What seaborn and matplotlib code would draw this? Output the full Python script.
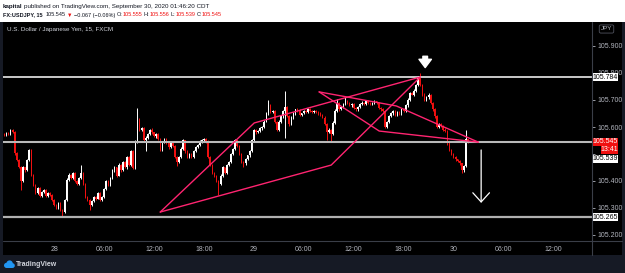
import matplotlib
matplotlib.use('Agg')
import numpy as np
import pandas as pd
import seaborn as sns
import matplotlib.pyplot as plt
import matplotlib.transforms as mtransforms
from matplotlib.patches import Rectangle, Circle
from matplotlib.lines import Line2D

# 15 min USDJPY closes, 27 Sep 18:00 -> 30 Sep 01:45 (CDT)
closes = [
    105.572, 105.578, 105.575, 105.588, 105.582, 105.503, 105.478, 105.452, 105.400, 105.450, 105.440, 105.478, 105.515, 105.422, 105.385, 105.356,
    105.374, 105.344, 105.359, 105.367, 105.344, 105.356, 105.348, 105.330, 105.311, 105.300, 105.319, 105.293, 105.285, 105.330, 105.404, 105.422,
    105.410, 105.430, 105.400, 105.390, 105.410, 105.430, 105.390, 105.340, 105.330, 105.310, 105.325, 105.340, 105.335, 105.355, 105.330, 105.340,
    105.370, 105.400, 105.385, 105.410, 105.440, 105.450, 105.420, 105.460, 105.440, 105.470, 105.450, 105.490, 105.460, 105.510, 105.448, 105.544,
    105.626, 105.589, 105.596, 105.552, 105.560, 105.575, 105.590, 105.580, 105.565, 105.575, 105.555, 105.515, 105.545, 105.555, 105.540, 105.525,
    105.545, 105.530, 105.490, 105.470, 105.490, 105.520, 105.550, 105.510, 105.490, 105.500, 105.490, 105.510, 105.525, 105.535, 105.545, 105.550,
    105.555, 105.545, 105.490, 105.460, 105.430, 105.420, 105.400, 105.390, 105.420, 105.450, 105.430, 105.460, 105.470, 105.500, 105.520, 105.550,
    105.530, 105.500, 105.470, 105.465, 105.480, 105.495, 105.510, 105.550, 105.590, 105.580, 105.585, 105.595, 105.600, 105.620, 105.650, 105.680,
    105.655, 105.660, 105.620, 105.590, 105.620, 105.640, 105.660, 105.675, 105.640, 105.610, 105.635, 105.650, 105.665, 105.660, 105.645, 105.650,
    105.660, 105.655, 105.665, 105.660, 105.655, 105.660, 105.655, 105.650, 105.645, 105.635, 105.610, 105.580, 105.590, 105.575, 105.615, 105.660,
    105.690, 105.665, 105.675, 105.685, 105.695, 105.690, 105.680, 105.685, 105.670, 105.665, 105.675, 105.685, 105.690, 105.685, 105.695, 105.690,
    105.685, 105.690, 105.695, 105.690, 105.670, 105.665, 105.660, 105.600, 105.620, 105.640, 105.650, 105.660, 105.645, 105.655, 105.650, 105.665,
    105.660, 105.680, 105.700, 105.725, 105.720, 105.735, 105.755, 105.780, 105.755, 105.720, 105.700, 105.710, 105.720, 105.690, 105.665, 105.640,
    105.600, 105.610, 105.605, 105.590, 105.585, 105.540, 105.515, 105.500, 105.490, 105.480, 105.475, 105.465, 105.440, 105.455, 105.555, 105.545,
]
first_open = 105.575

# wick lengths above / below the body, in 0.001 yen
upper_wick = [
    4, 3, 5, 3, 6, 4, 3, 5, 4, 6, 3, 5, 5, 4, 3, 4,
    5, 3, 4, 3, 4, 3, 5, 3, 4, 2, 5, 3, 3, 4, 6, 8,
    4, 5, 3, 4, 3, 30, 4, 3, 5, 3, 4, 3, 4, 5, 3, 4,
    5, 4, 3, 6, 4, 5, 3, 5, 4, 3, 5, 4, 3, 5, 4, 6,
    44, 6, 5, 4, 5, 3, 4, 5, 3, 4, 3, 5, 4, 3, 4, 3,
    4, 3, 5, 3, 4, 5, 4, 3, 4, 3, 5, 3, 4, 3, 5, 4,
    4, 3, 5, 3, 4, 3, 4, 3, 5, 4, 3, 4, 5, 3, 4, 5,
    3, 4, 3, 4, 5, 3, 4, 5, 4, 3, 5, 4, 3, 5, 4, 20,
    5, 4, 3, 4, 5, 4, 3, 60, 4, 3, 5, 4, 3, 4, 5, 3,
    4, 3, 5, 4, 3, 4, 3, 5, 4, 3, 4, 3, 5, 4, 6, 8,
    15, 4, 3, 5, 15, 4, 3, 4, 5, 3, 4, 3, 5, 4, 3, 4,
    3, 4, 5, 3, 4, 3, 5, 4, 3, 5, 4, 3, 4, 5, 3, 4,
    5, 4, 6, 5, 4, 6, 5, 8, 20, 4, 5, 3, 6, 4, 3, 5,
    4, 5, 3, 4, 5, 3, 4, 3, 5, 4, 3, 4, 3, 5, 33, 1,
]
lower_wick = [
    4, 5, 3, 4, 3, 6, 4, 5, 33, 4, 5, 3, 4, 5, 4, 3,
    4, 5, 3, 4, 5, 3, 4, 5, 4, 3, 5, 4, 13, 3, 4, 3,
    4, 3, 5, 4, 3, 4, 5, 3, 4, 17, 3, 4, 5, 3, 4, 5,
    4, 3, 5, 4, 3, 5, 4, 3, 5, 4, 3, 4, 5, 3, 4, 5,
    3, 5, 4, 4, 42, 3, 4, 5, 3, 4, 3, 5, 4, 3, 4, 5,
    4, 3, 5, 15, 4, 3, 4, 5, 3, 4, 5, 3, 4, 3, 5, 4,
    3, 4, 5, 4, 3, 5, 4, 42, 3, 4, 5, 3, 4, 3, 5, 4,
    4, 5, 3, 15, 4, 3, 5, 4, 3, 5, 4, 3, 5, 4, 3, 4,
    5, 3, 4, 5, 3, 4, 5, 100, 4, 5, 3, 4, 5, 3, 4, 5,
    3, 4, 5, 3, 4, 5, 3, 4, 5, 3, 4, 30, 4, 30, 3, 4,
    4, 5, 3, 4, 5, 3, 4, 5, 3, 4, 5, 3, 4, 5, 3, 4,
    5, 3, 4, 5, 3, 4, 5, 3, 4, 5, 3, 4, 5, 3, 4, 5,
    4, 3, 5, 4, 3, 5, 4, 3, 4, 5, 3, 4, 5, 3, 4, 5,
    4, 3, 5, 4, 3, 5, 4, 3, 4, 5, 3, 4, 10, 5, 5, 6,
]

time_ticks = [24, 48, 72, 96, 120, 144, 168, 192, 216, 240, 264]
time_labels = ['28', '06:00', '12:00', '18:00', '29', '06:00', '12:00', '18:00', '30', '06:00', '12:00']
price_ticks = [105.2, 105.3, 105.4, 105.5, 105.6, 105.7, 105.8, 105.9]

resistance = 105.784
pivot = 105.545
support = 105.265

# hand drawn pink lines (bar index, price)
drawing_names = ['a', 'a', 'a', 'b', 'b', 'b', 'c', 'c', 'c', 'd', 'd', 'd']
drawing_x = [75.0, 120.2, 200.0, 75.0, 157.2, 200.0, 151.4, 188.5, 227.9, 151.4, 180.3, 227.9]
drawing_y = [105.285, 105.615, 105.785, 105.285, 105.459, 105.785, 105.730, 105.678, 105.544, 105.730, 105.585, 105.544]

RED = '#f01010'
PINK = '#ff2470'
AXIS_TXT = '#b2b5be'
SEP = '#3a3e48'
DARK = '#131722'

sns.set_theme(style='dark')
plt.rcParams['font.family'] = ['Liberation Sans', 'DejaVu Sans']

W, H = 625, 273
fig = plt.figure(figsize=(W / 100, H / 100), dpi=100, facecolor='#161a25')
renderer = fig.canvas.get_renderer()


def fx(px):
    return px / W


def fy(py):
    return 1 - py / H


fig.add_artist(Rectangle((0, fy(22)), 1, 22 / H, transform=fig.transFigure, fc='white', ec='none', zorder=0))
fig.add_artist(Rectangle((fx(3), fy(255)), 619 / W, 233 / H, transform=fig.transFigure, fc='black', ec='none', zorder=0))

ax = fig.add_axes([fx(3), fy(241), 589 / W, 219 / H])
ax.set_facecolor('black')

df = pd.DataFrame({'close': closes, 'up': upper_wick, 'dn': lower_wick})
df['open'] = [first_open] + closes[:-1]
df['idx'] = np.arange(len(df))
df['top'] = df[['open', 'close']].max(axis=1)
df['bot'] = df[['open', 'close']].min(axis=1)
df['high'] = df['top'] + df['up'] / 1000
df['low'] = df['bot'] - df['dn'] / 1000
df['color'] = np.where(df['close'] >= df['open'], 'white', RED)

ax.vlines(df['idx'], df['low'], df['high'], colors=df['color'], lw=0.7, zorder=2)
ax.bar(df['idx'], (df['top'] - df['bot']).clip(lower=0.0015), bottom=df['bot'],
       width=0.7, color=df['color'], linewidth=0, zorder=2)

ax.axhline(resistance, color='white', lw=1.1, zorder=3)
ax.axhline(pivot, color='#b9b9b9', lw=1.5, zorder=3)
ax.axhline(support, color='#b0b0b0', lw=1.6, zorder=3)

draw_df = pd.DataFrame({'name': drawing_names, 'x': drawing_x, 'y': drawing_y})
sns.lineplot(data=draw_df, x='x', y='y', units='name', estimator=None, sort=False,
             color=PINK, lw=1.0, ax=ax, legend=False, zorder=4)

# arrows
ax.annotate('', xy=(229.3, 105.319), xytext=(229.3, 105.515),
            arrowprops=dict(arrowstyle='->,head_length=0.55,head_width=0.5', color='white',
                            lw=0.9, shrinkA=0, shrinkB=0), zorder=5)
ax.annotate('', xy=(202.4, 105.820), xytext=(202.4, 105.862),
            arrowprops=dict(arrowstyle='simple,head_length=0.5,head_width=0.75,tail_width=0.28',
                            color='white', shrinkA=0, shrinkB=0), zorder=5)

ax.set_xlim(-0.6, 282.6)
ax.set_ylim(105.7 - 141 / 270, 105.7 + 78 / 270)
ax.set_xticks(time_ticks, time_labels)
# 105.500 sits under the red last-price tag, so its label is left blank
ax.set_yticks(price_ticks, ['' if abs(p - 105.5) < 1e-9 else '%.3f' % p for p in price_ticks])
ax.yaxis.tick_right()
ax.tick_params(axis='x', colors=AXIS_TXT, labelsize=5, length=2, width=0.6, pad=1.5)
ax.tick_params(axis='y', colors=AXIS_TXT, labelsize=5, length=2, width=0.6, pad=2)
ax.set_xlabel('')
ax.set_ylabel('')
ax.grid(False)
for s in ax.spines.values():
    s.set_visible(False)

fig.add_artist(Line2D([fx(592), fx(592)], [fy(22), fy(255)], color=SEP, lw=0.8, transform=fig.transFigure))
fig.add_artist(Line2D([fx(3), fx(622)], [fy(241), fy(241)], color=SEP, lw=0.8, transform=fig.transFigure))

# price tags on the right scale
blend = mtransforms.blended_transform_factory(ax.transAxes, ax.transData)


def tag(price, text, fc, tc, x0=593, x1=618, h=8):
    a0 = (x0 - 3) / 589
    a1 = (x1 - 3) / 589
    ax.add_patch(Rectangle((a0, price - h / 540), a1 - a0, h / 270, transform=blend,
                           fc=fc, ec='none', clip_on=False, zorder=6))
    ax.text((a0 + a1) / 2, price, text, transform=blend, ha='center', va='center',
            fontsize=5, color=tc, clip_on=False, zorder=7)


tag(resistance, '105.784', 'white', 'black')
tag(pivot, '105.545', RED, 'white')
tag(105.7 - 50 / 270, '13:41', RED, 'white', x0=601)
tag(105.7 - 59 / 270, '105.539', 'white', 'black')
tag(support, '105.265', 'white', 'black')

fig.text(fx(606.5), fy(29), 'JPY', fontsize=4.5, color=AXIS_TXT, ha='center', va='center',
         bbox=dict(boxstyle='round,pad=0.25', fc='black', ec='#50535e', lw=0.6))


def text_row(pieces, x0, py, size):
    # lay out text pieces one after the other, gap in pixels after each
    x = x0
    for txt, col, wt, gap in pieces:
        t = fig.text(fx(x), fy(py), txt, fontsize=size, color=col, weight=wt, va='center')
        x += t.get_window_extent(renderer).width + gap


text_row([('kapital', DARK, 'bold', 1.5),
          ('published on TradingView.com, September 30, 2020 01:46:20 CDT', DARK, 'normal', 0)],
         3, 6.5, 4.5)
text_row([('FX:USDJPY, 15', DARK, 'bold', 3),
          ('105.545', DARK, 'normal', 1.5),
          ('\u25bc', RED, 'normal', 1.5),
          ('\u22120.067 (\u22120.06%)', DARK, 'normal', 1.5),
          ('O:', DARK, 'normal', 0.3), ('105.555', RED, 'normal', 1),
          ('H:', DARK, 'normal', 0.3), ('105.556', RED, 'normal', 1),
          ('L:', DARK, 'normal', 0.3), ('105.539', RED, 'normal', 1),
          ('C:', DARK, 'normal', 0.3), ('105.545', RED, 'normal', 0)],
         3, 15, 4.0)

fig.text(fx(7), fy(29), 'U.S. Dollar / Japanese Yen, 15, FXCM', fontsize=4.5, color='#d1d4dc', va='center')

# footer logo
lax = fig.add_axes([fx(3), fy(269), 12 / W, 10 / H])
lax.set_xlim(0, 12)
lax.set_ylim(0, 10)
lax.axis('off')
for cx, cy, r in [(3.6, 3.6, 2.6), (6.6, 5.4, 3.2), (9.4, 3.4, 2.4)]:
    lax.add_patch(Circle((cx, cy), r, fc='#2196f3', ec='none'))
lax.add_patch(Rectangle((3.6, 1.0), 5.8, 3.0, fc='#2196f3', ec='none'))
fig.text(fx(16), fy(264), 'TradingView', fontsize=5, color='#d1d4dc', va='center', weight='bold')

fig.savefig('out.png', dpi=100, facecolor=fig.get_facecolor())
